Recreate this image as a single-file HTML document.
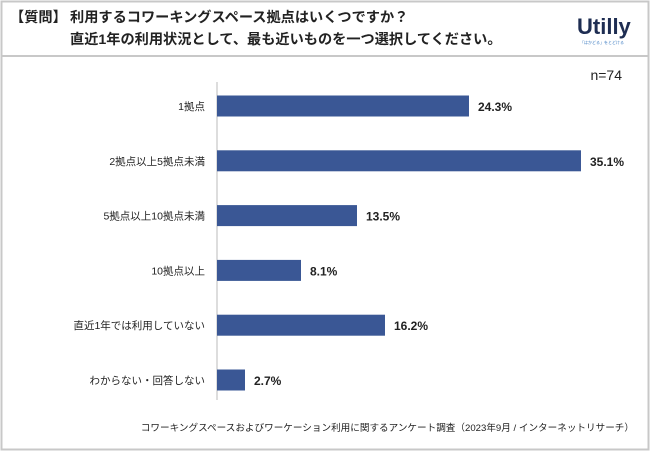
<!DOCTYPE html>
<html><head><meta charset="utf-8"><style>
body{margin:0;background:#fff;font-family:"Liberation Sans","Noto Sans CJK JP",sans-serif;}
#wrap{position:relative;width:650px;height:451px;overflow:hidden;}
</style></head><body>
<div id="wrap">
<svg width="650" height="451" xmlns="http://www.w3.org/2000/svg" id="svg">
<rect x="1.5" y="1.5" width="647" height="448" fill="#fff" stroke="#c8c8c8" stroke-width="2"/>
<line x1="1" y1="56" x2="649" y2="56" stroke="#c8c8c8" stroke-width="2"/>
<text x="10" y="22" font-size="14.2" font-weight="bold" fill="#222">【質問】</text>
<text x="70" y="22" font-size="14.2" font-weight="bold" fill="#222">利用するコワーキングスペース拠点はいくつですか？</text>
<text x="70" y="44" font-size="14.2" font-weight="bold" fill="#222">直近1年の利用状況として、最も近いものを一つ選択してください。</text>
<text x="577" y="34" font-size="22" font-weight="bold" fill="#1e2d52">Utilly</text>
<text x="580" y="44" font-size="4" fill="#3a7ac0">「はかどる」をとどける</text>
<text x="622" y="80" font-size="14" fill="#222" text-anchor="end">n=74</text>
<line x1="217" y1="82" x2="217" y2="400" stroke="#bbb" stroke-width="1"/>
<g id="bars"></g>
<text x="634" y="431" font-size="9.6" fill="#222" text-anchor="end">コワーキングスペースおよびワーケーション利用に関するアンケート調査（2023年9月 / インターネットリサーチ）</text>
</svg>
</div>
<script>
const categories=["1拠点","2拠点以上5拠点未満","5拠点以上10拠点未満","10拠点以上","直近1年では利用していない","わからない・回答しない"];
const values=[24.3,35.1,13.5,8.1,16.2,2.7];
const labels=["24.3%","35.1%","13.5%","8.1%","16.2%","2.7%"];
const NS="http://www.w3.org/2000/svg";
const x0=217, pxPer=10.37, yTop=106, step=54.8, bh=21;
function xs(v){return x0+v*pxPer;}
function yc(i){return yTop+i*step;}
const g=document.getElementById('bars');
categories.forEach((c,i)=>{
  const r=document.createElementNS(NS,'rect');
  r.setAttribute('x',x0);r.setAttribute('y',yc(i)-bh/2);
  r.setAttribute('width',xs(values[i])-x0);r.setAttribute('height',bh);
  r.setAttribute('fill','#3a5795');
  
  
  g.appendChild(r);
  const t=document.createElementNS(NS,'text');
  t.setAttribute('x',205);t.setAttribute('y',yc(i)+4);
  t.setAttribute('text-anchor','end');t.setAttribute('font-size','10.5');t.setAttribute('fill','#222');
  t.textContent=c;
  
  
  g.appendChild(t);
  const v=document.createElementNS(NS,'text');
  v.setAttribute('x',xs(values[i])+9);v.setAttribute('y',yc(i)+5);
  v.setAttribute('font-size','12');v.setAttribute('font-weight','bold');v.setAttribute('fill','#222');
  v.textContent=labels[i];
  
  
  g.appendChild(v);
});
</script>
</body></html>
